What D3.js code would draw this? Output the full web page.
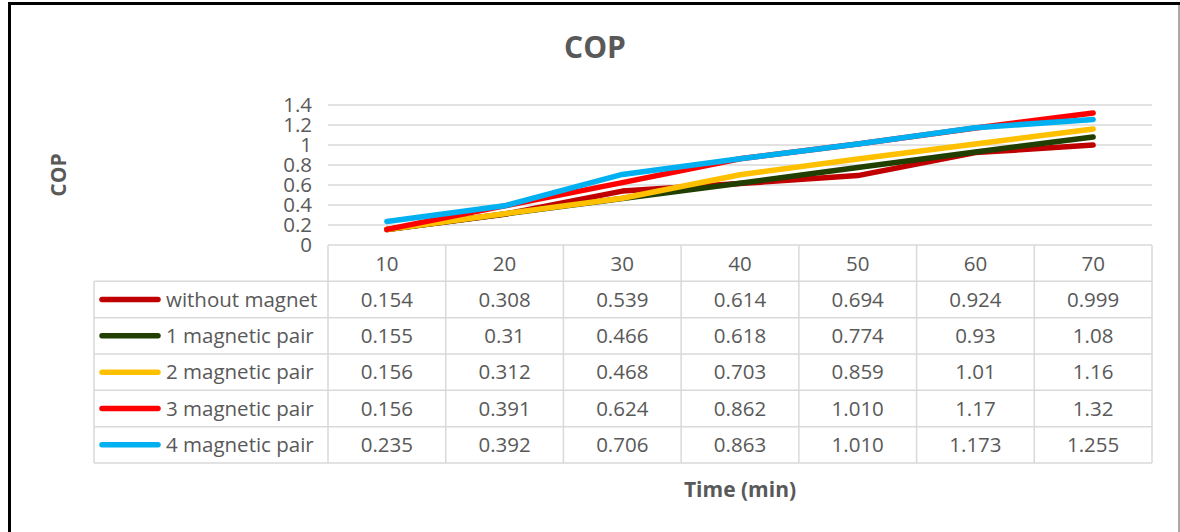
<!DOCTYPE html>
<html>
<head>
<meta charset="utf-8">
<script src="https://cdn.jsdelivr.net/npm/d3@7"></script>
<style>
    body { margin: 0; background: #fff; }
    svg { display: block; font-family: 'Open Sans', sans-serif; }
</style>
</head>
<body>
<div id="chart"></div>
<script>
// chart data
const times = [10, 20, 30, 40, 50, 60, 70];
const seriesNames = ["without magnet", "1 magnetic pair", "2 magnetic pair", "3 magnetic pair", "4 magnetic pair"];
const withoutMagnet = [0.154, 0.308, 0.539, 0.614, 0.694, 0.924, 0.999];
const pair1 = [0.155, 0.31, 0.466, 0.618, 0.774, 0.93, 1.08];
const pair2 = [0.156, 0.312, 0.468, 0.703, 0.859, 1.01, 1.16];
const pair3 = [0.156, 0.391, 0.624, 0.862, 1.010, 1.17, 1.32];
const pair4 = [0.235, 0.392, 0.706, 0.863, 1.010, 1.173, 1.255];
// labels as printed in the data table
const tableLabels = [
    ["0.154", "0.308", "0.539", "0.614", "0.694", "0.924", "0.999"],
    ["0.155", "0.31", "0.466", "0.618", "0.774", "0.93", "1.08"],
    ["0.156", "0.312", "0.468", "0.703", "0.859", "1.01", "1.16"],
    ["0.156", "0.391", "0.624", "0.862", "1.010", "1.17", "1.32"],
    ["0.235", "0.392", "0.706", "0.863", "1.010", "1.173", "1.255"]
];
const yTicks = [0, 0.2, 0.4, 0.6, 0.8, 1, 1.2, 1.4];
const colors = ["#C00000", "#203F00", "#FFC000", "#FF0000", "#00B0F0"];

const allSeries = [withoutMagnet, pair1, pair2, pair3, pair4];

let width = 1180, height = 532;
let textColor = "#595959", gridColor = "#D9D9D9";
let fontSize = 20.5;

let svg = d3.select("#chart").append("svg")
    .attr("width", width).attr("height", height);

//Outer Frame (top + left black, right thin gray)
svg.append("line")
    .attr("x1", 8).attr("x2", 1180).attr("y1", 3.5).attr("y2", 3.5)
    .attr("stroke", "#000").attr("stroke-width", 3);
svg.append("line")
    .attr("x1", 9.5).attr("x2", 9.5).attr("y1", 2).attr("y2", height)
    .attr("stroke", "#000").attr("stroke-width", 3);
svg.append("line")
    .attr("x1", 1179).attr("x2", 1179).attr("y1", 5).attr("y2", height)
    .attr("stroke", "#8c8c8c").attr("stroke-width", 1.5);

//Scales
let x = d3.scaleBand().domain(times).range([328, 1152]);
let y = d3.scaleLinear().domain([0, 1.4]).range([245, 105]);
let rows = d3.scaleBand().domain(["header"].concat(seriesNames)).range([245, 463]);

//Title
svg.append("text")
    .attr("x", 595).attr("y", 58)
    .attr("text-anchor", "middle")
    .attr("font-size", 30).attr("font-weight", 700)
    .attr("fill", textColor).text("COP");

//Y Axis Label
svg.append("text")
    .attr("transform", "translate(66,175) rotate(-90)")
    .attr("text-anchor", "middle")
    .attr("font-size", 21).attr("font-weight", 700)
    .attr("fill", textColor).text("COP");

//Gridlines
svg.append("g").selectAll("line").data(yTicks.slice(1)).enter().append("line")
    .attr("x1", 328).attr("x2", 1152)
    .attr("y1", d => y(d)).attr("y2", d => y(d))
    .attr("stroke", gridColor).attr("stroke-width", 1.5);

//Y Axis
let yAxis = d3.axisLeft(y).tickValues(yTicks).tickSize(0).tickPadding(16)
    .tickFormat(d => d3.format("")(d));
let yg = svg.append("g").attr("transform", "translate(328,0)").call(yAxis);
yg.select(".domain").remove();
yg.selectAll("text")
    .attr("font-family", "'Open Sans', sans-serif")
    .attr("font-size", fontSize).attr("fill", textColor);

//Lines
let line = d3.line()
    .x((d, i) => x(times[i]) + x.bandwidth() / 2)
    .y(d => y(d));

svg.append("g").selectAll("path").data(allSeries).enter().append("path")
    .attr("d", line)
    .attr("fill", "none")
    .attr("stroke", (d, i) => colors[i])
    .attr("stroke-width", 5.5)
    .attr("stroke-linecap", "round")
    .attr("stroke-linejoin", "round");

//Data Table
let table = svg.append("g");
let tableBottom = rows.range()[1];

// horizontal lines
table.append("line")
    .attr("x1", 328).attr("x2", 1152).attr("y1", 245).attr("y2", 245)
    .attr("stroke", gridColor).attr("stroke-width", 1.5);
table.selectAll(".hline").data(seriesNames).enter().append("line")
    .attr("x1", 94).attr("x2", 1152)
    .attr("y1", d => rows(d)).attr("y2", d => rows(d))
    .attr("stroke", gridColor).attr("stroke-width", 1.5);
table.append("line")
    .attr("x1", 94).attr("x2", 1152).attr("y1", tableBottom).attr("y2", tableBottom)
    .attr("stroke", gridColor).attr("stroke-width", 1.5);

// vertical lines
table.append("line")
    .attr("x1", 94).attr("x2", 94).attr("y1", rows(seriesNames[0])).attr("y2", tableBottom)
    .attr("stroke", gridColor).attr("stroke-width", 1.5);
table.selectAll(".vline").data(times).enter().append("line")
    .attr("x1", d => x(d)).attr("x2", d => x(d))
    .attr("y1", 245).attr("y2", tableBottom)
    .attr("stroke", gridColor).attr("stroke-width", 1.5);
table.append("line")
    .attr("x1", 1152).attr("x2", 1152).attr("y1", 245).attr("y2", tableBottom)
    .attr("stroke", gridColor).attr("stroke-width", 1.5);

// header (x categories)
table.selectAll(".xlab").data(times).enter().append("text")
    .attr("x", d => x(d) + x.bandwidth() / 2)
    .attr("y", rows("header") + rows.bandwidth() / 2 + 1)
    .attr("dy", "0.35em")
    .attr("text-anchor", "middle")
    .attr("font-size", fontSize).attr("fill", textColor)
    .text(d => d);

// series rows
seriesNames.forEach(function(name, si) {
    let cy = rows(name) + rows.bandwidth() / 2;
    table.append("line")
        .attr("x1", 102).attr("x2", 158).attr("y1", cy).attr("y2", cy)
        .attr("stroke", colors[si]).attr("stroke-width", 5.5)
        .attr("stroke-linecap", "round");
    table.append("text")
        .attr("x", 166).attr("y", cy).attr("dy", "0.35em")
        .attr("font-size", fontSize).attr("fill", textColor)
        .text(name);
    table.selectAll(".v" + si).data(times).enter().append("text")
        .attr("x", d => x(d) + x.bandwidth() / 2)
        .attr("y", cy).attr("dy", "0.35em")
        .attr("text-anchor", "middle")
        .attr("font-size", fontSize).attr("fill", textColor)
        .text((d, i) => tableLabels[si][i]);
});

//X Axis Title
svg.append("text")
    .attr("x", 740).attr("y", 497)
    .attr("text-anchor", "middle")
    .attr("font-size", 21).attr("font-weight", 700)
    .attr("fill", textColor).text("Time (min)");
</script>
</body>
</html>
